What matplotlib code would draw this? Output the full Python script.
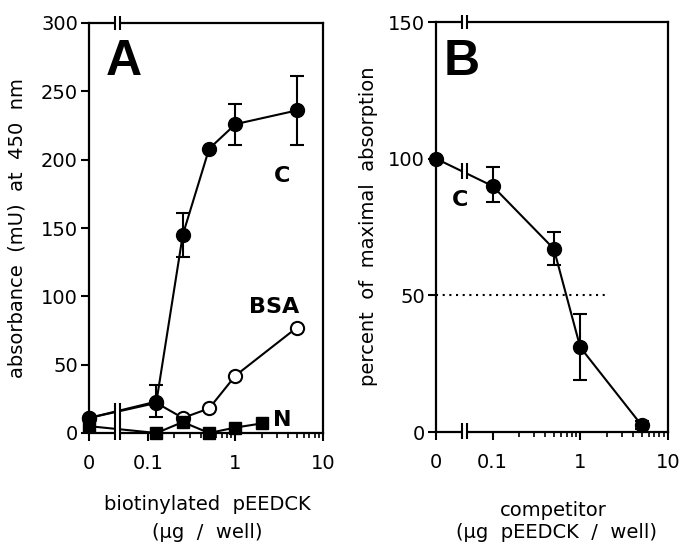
import numpy as np
import matplotlib
matplotlib.use("Agg")
import matplotlib.pyplot as plt
from matplotlib.patches import Rectangle
import matplotlib.transforms as mtransforms

plt.rcParams['font.family'] = ['DejaVu Sans']

# ---------------- data ----------------
# Panel A
A_ZERO = 0.0212          # position used for the "0" category on the log axis
C_x = [0, 0.125, 0.25, 0.5, 1, 5]
C_y = [11, 23, 145, 208, 226, 236]
C_lo = [None, 12, 129, None, 211, 211]
C_hi = [None, 35, 161, None, 241, 261]

BSA_x = [0, 0.125, 0.25, 0.5, 1, 5]
BSA_y = [11, 22, 11, 18, 42, 77]

N_x = [0, 0.125, 0.25, 0.5, 1, 2]
N_y = [5, 0, 8, 0, 4, 7]

# Panel B
B_ZERO = 0.0227
B_x = [0, 0.1, 0.5, 1, 5]
B_y = [100, 90, 67, 31, 2.5]
B_lo = [None, 84, 61, 19, 1]
B_hi = [None, 97, 73, 43, 4]
HALF_X = [0, 2]
HALF_Y = [50, 50]

x_tick_vals = [0, 0.1, 1, 10]
x_tick_labels = ['0', '0.1', '1', '10']
A_yticks = [0, 50, 100, 150, 200, 250, 300]
B_yticks = [0, 50, 100, 150]

W, H = 683, 544
fig = plt.figure(figsize=(W / 100, H / 100), dpi=100)


def px(x, y):
    return x / W, 1 - y / H


def mapx(vals, zero):
    return [zero if v == 0 else v for v in vals]


def style_axis(ax, zero):
    ax.set_xscale('log')
    ax.set_xlim(zero, 10)
    ax.set_xticks(mapx(x_tick_vals, zero))
    ax.set_xticklabels(x_tick_labels)
    minors = [m * d for d in (0.1, 1) for m in range(2, 10)]
    ax.set_xticks(minors, minor=True)
    ax.xaxis.set_minor_formatter(matplotlib.ticker.NullFormatter())
    for s in ax.spines.values():
        s.set_linewidth(1.6)
    ax.tick_params(axis='both', which='major', direction='out', length=6,
                   width=1.5, labelsize=14, pad=2)
    ax.tick_params(axis='x', which='major', pad=9)
    ax.tick_params(axis='x', which='minor', direction='out', length=3.5,
                   width=1.2)
    ax.tick_params(axis='y', which='minor', left=False)


def axis_break(ax, xa, xb, y0, y1):
    tr = mtransforms.blended_transform_factory(ax.transData, ax.transAxes)
    ax.add_patch(Rectangle((xa, y0), xb - xa, y1 - y0, transform=tr,
                           facecolor='white', edgecolor='none',
                           clip_on=False, zorder=6))
    for xv in (xa, xb):
        ax.plot([xv, xv], [y0, y1], transform=tr, color='black', lw=1.5,
                clip_on=False, zorder=7, solid_capstyle='butt')


def errs(x, y, lo, hi, zero):
    xs, ys, el, eh = [], [], [], []
    for xi, yi, l, h in zip(x, y, lo, hi):
        if l is None:
            continue
        xs.append(zero if xi == 0 else xi)
        ys.append(yi)
        el.append(yi - l)
        eh.append(h - yi)
    return xs, ys, [el, eh]


# ---------------- panel A ----------------
axA = fig.add_axes([89 / W, 111 / H, 234 / W, 410 / H])
style_axis(axA, A_ZERO)
axA.set_ylim(0, 300)
axA.set_yticks(A_yticks)

lw = 1.5
axA.plot(mapx(BSA_x, A_ZERO), BSA_y, '-o', color='black', lw=lw, ms=9.5,
         mfc='white', mew=1.5, clip_on=False, zorder=3)
axA.plot(mapx(N_x, A_ZERO), N_y, '-s', color='black', lw=lw, ms=9,
         clip_on=False, zorder=4)
axA.plot(mapx(C_x, A_ZERO), C_y, '-o', color='black', lw=lw, ms=10,
         clip_on=False, zorder=5)
ex, ey, ee = errs(C_x, C_y, C_lo, C_hi, A_ZERO)
axA.errorbar(ex, ey, yerr=ee, fmt='none', ecolor='black', elinewidth=1.5,
             capsize=5, capthick=1.5, clip_on=False, zorder=5)

axis_break(axA, 0.0420, 0.0479, -0.017, 0.073)
axis_break(axA, 0.0420, 0.0479, 1 - 0.016, 1 + 0.016)

fig.text(*px(124, 62), 'A', fontsize=36, fontweight='bold',
         family='Liberation Sans', ha='center', va='center')
fig.text(*px(282, 176), 'C', fontsize=16, fontweight='bold',
         ha='center', va='center')
fig.text(*px(274, 307), 'BSA', fontsize=16, fontweight='bold',
         ha='center', va='center')
fig.text(*px(282, 420), 'N', fontsize=16, fontweight='bold',
         ha='center', va='center')

fig.text(*px(17, 228), 'absorbance  (mU)  at  450  nm', fontsize=14,
         rotation=90, ha='center', va='center')
fig.text(*px(207, 505), 'biotinylated  pEEDCK', fontsize=14,
         ha='center', va='center')
fig.text(*px(207, 532), '(µg  /  well)', fontsize=14,
         ha='center', va='center')

# ---------------- panel B ----------------
axB = fig.add_axes([436 / W, 112 / H, 232 / W, 410 / H])
style_axis(axB, B_ZERO)
axB.set_ylim(0, 150)
axB.set_yticks(B_yticks)

axB.plot(mapx(HALF_X, B_ZERO), HALF_Y, ls=(0, (1, 2.2)), color='black',
         lw=1.5, zorder=2)
axB.plot(mapx(B_x, B_ZERO), B_y, '-o', color='black', lw=lw, ms=10,
         clip_on=False, zorder=5)
ex, ey, ee = errs(B_x, B_y, B_lo, B_hi, B_ZERO)
axB.errorbar(ex, ey, yerr=ee, fmt='none', ecolor='black', elinewidth=1.5,
             capsize=5, capthick=1.5, clip_on=False, zorder=5)

axis_break(axB, 0.0447, 0.0508, -0.017, 0.022)
axis_break(axB, 0.0447, 0.0508, 1 - 0.018, 1 + 0.018)
axis_break(axB, 0.0447, 0.0508, 0.618, 0.655)

fig.text(*px(462, 62), 'B', fontsize=36, fontweight='bold',
         family='Liberation Sans', ha='center', va='center')
fig.text(*px(460, 200), 'C', fontsize=16, fontweight='bold',
         ha='center', va='center')

fig.text(*px(368, 226), 'percent  of  maximal  absorption', fontsize=14,
         rotation=90, ha='center', va='center')
fig.text(*px(553, 510), 'competitor', fontsize=14, ha='center', va='center')
fig.text(*px(557, 532), '(µg  pEEDCK  /  well)', fontsize=14,
         ha='center', va='center')

fig.savefig('out.png', dpi=100, facecolor='white')
